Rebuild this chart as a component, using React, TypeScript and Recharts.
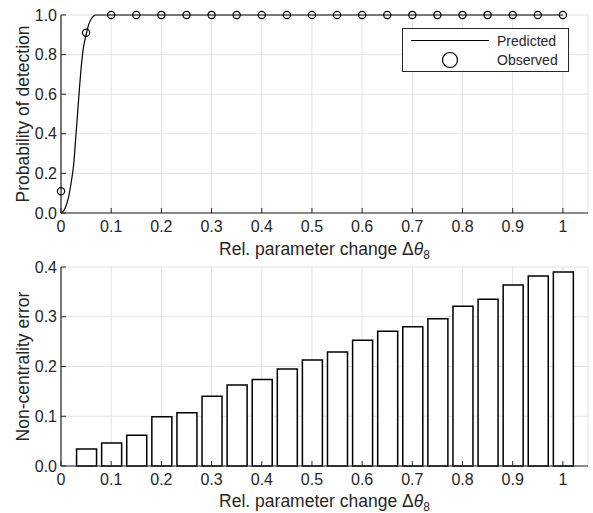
import { ComposedChart, Line, Scatter, Bar, XAxis, YAxis, CartesianGrid, Legend } from "recharts"

const FONT = '"Liberation Sans", Arial, Helvetica, sans-serif'
const INK = "#262626"
const GRID = "#e3e3e3"

// predicted detection probability
const predX = [0, 0.005, 0.01, 0.015, 0.02, 0.025, 0.03, 0.035, 0.04, 0.045, 0.05, 0.055, 0.06, 0.065, 0.07, 0.1, 1]
const predP = [0, 0.01, 0.035, 0.08, 0.15, 0.24, 0.4, 0.57, 0.73, 0.84, 0.9, 0.95, 0.98, 0.995, 1, 1, 1]

// observed detection rate
const obsX = [0, 0.05, 0.1, 0.15, 0.2, 0.25, 0.3, 0.35, 0.4, 0.45, 0.5, 0.55, 0.6, 0.65, 0.7, 0.75, 0.8, 0.85, 0.9, 0.95, 1]
const obsP = [0.11, 0.91, 1, 1, 1, 1, 1, 1, 1, 1, 1, 1, 1, 1, 1, 1, 1, 1, 1, 1, 1]

// non-centrality error per parameter change
const errX = [0.05, 0.1, 0.15, 0.2, 0.25, 0.3, 0.35, 0.4, 0.45, 0.5, 0.55, 0.6, 0.65, 0.7, 0.75, 0.8, 0.85, 0.9, 0.95, 1]
const errV = [0.034, 0.046, 0.062, 0.099, 0.107, 0.14, 0.163, 0.174, 0.195, 0.213, 0.229, 0.253, 0.271, 0.28, 0.296, 0.321, 0.335, 0.364, 0.382, 0.39]

const xTicks = [0, 0.1, 0.2, 0.3, 0.4, 0.5, 0.6, 0.7, 0.8, 0.9, 1]
const pTicks = [0, 0.2, 0.4, 0.6, 0.8, 1]
const eTicks = [0, 0.1, 0.2, 0.3, 0.4]

const predData = predX.map((x, i) => ({ x, y: predP[i] }))
const obsData = obsX.map((x, i) => ({ x, y: obsP[i] }))
const errData = errX.map((x, i) => ({ x, y: errV[i] }))

const W = 593
const LEFT = 61
const RIGHT = 5
const X_MAX = 1.05
const plotW = W - LEFT - RIGHT
const barW = Math.round((plotW * 0.04) / X_MAX)

const fmtX = (v: number) => String(Number(v.toFixed(2)))
const TICK_LEN = 5

const LeftTick = (props: any) => {
  const { x, y, payload } = props
  return (
    <g>
      <line x1={x + 4} x2={x + 4 + TICK_LEN} y1={y} y2={y} stroke={INK} strokeWidth={1} />
      <text x={x} y={y} dy="0.355em" textAnchor="end" fontSize={16} fontFamily={FONT} fill={INK}>
        {Number(payload.value).toFixed(1)}
      </text>
    </g>
  )
}

const RightTick = (props: any) => {
  const { x, y } = props
  return <line x1={x} x2={x - TICK_LEN} y1={y} y2={y} stroke={INK} strokeWidth={1} />
}

const BottomTick = (props: any) => {
  const { x, y, payload } = props
  return (
    <g>
      <line x1={x} x2={x} y1={y - 8} y2={y - 8 - TICK_LEN} stroke={INK} strokeWidth={1} />
      <text x={x} y={y} dy="0.71em" textAnchor="middle" fontSize={16} fontFamily={FONT} fill={INK}>
        {fmtX(payload.value)}
      </text>
    </g>
  )
}

const TopTick = (props: any) => {
  const { x, y } = props
  return <line x1={x} x2={x} y1={y} y2={y + TICK_LEN} stroke={INK} strokeWidth={1} />
}

const XTitle = (props: any) => {
  const { viewBox, gap } = props
  const cx = viewBox.x + viewBox.width / 2
  const y = viewBox.y + gap
  return (
    <text x={cx} y={y} textAnchor="middle" fontSize={17.5} fontFamily={FONT} fill={INK}>
      Rel. parameter change Δ
      <tspan fontStyle="italic">θ</tspan>
      <tspan fontSize={12} dy={4}>8</tspan>
    </text>
  )
}

const YTitle = (props: any) => {
  const { viewBox, text } = props
  const cy = viewBox.y + viewBox.height / 2
  const x = 29
  return (
    <text x={x} y={cy} transform={`rotate(-90, ${x}, ${cy})`} textAnchor="middle" fontSize={17.5} fontFamily={FONT} fill={INK}>
      {text}
    </text>
  )
}

const Ring = (props: any) => {
  const { cx, cy } = props
  return <circle cx={cx} cy={cy} r={3.6} fill="none" stroke="#000" strokeWidth={1.2} />
}

const LegendBox = () => (
  <svg width={168} height={45} style={{ display: "block" }}>
    <rect x={0.5} y={0.5} width={166} height={43} fill="#fff" stroke={INK} strokeWidth={1} />
    <line x1={9} x2={87} y1={12.5} y2={12.5} stroke="#000" strokeWidth={1.2} />
    <text x={95} y={17.5} fontSize={14} fontFamily={FONT} fill={INK}>Predicted</text>
    <circle cx={48} cy={32} r={7.5} fill="none" stroke="#000" strokeWidth={1.2} />
    <text x={95} y={37} fontSize={14} fontFamily={FONT} fill={INK}>Observed</text>
  </svg>
)

// top panel: svg is taller than its plot block so the subscript is not clipped
function DetectionChart() {
  return (
    <ComposedChart width={W} height={268} margin={{ top: 15, right: RIGHT, bottom: 11, left: 0 }}>
      <CartesianGrid stroke={GRID} strokeWidth={1} />
      <XAxis
        dataKey="x"
        type="number"
        domain={[0, X_MAX]}
        ticks={xTicks}
        height={44}
        tickSize={0}
        tickMargin={8}
        tick={<BottomTick />}
        tickLine={false}
        axisLine={{ stroke: INK, strokeWidth: 1.2 }}
        label={<XTitle gap={42} />}
      />
      <XAxis
        xAxisId="top"
        orientation="top"
        type="number"
        domain={[0, X_MAX]}
        ticks={xTicks}
        height={0}
        tickSize={0}
        tickMargin={0}
        tick={<TopTick />}
        tickLine={false}
        axisLine={{ stroke: INK, strokeWidth: 1.2 }}
      />
      <YAxis
        dataKey="y"
        type="number"
        domain={[0, 1]}
        ticks={pTicks}
        width={LEFT}
        tickSize={0}
        tickMargin={4}
        tick={<LeftTick />}
        tickLine={false}
        axisLine={{ stroke: INK, strokeWidth: 1.2 }}
        label={<YTitle text="Probability of detection" />}
      />
      <YAxis
        yAxisId="right"
        orientation="right"
        type="number"
        domain={[0, 1]}
        ticks={pTicks}
        width={0}
        tickSize={0}
        tickMargin={0}
        tick={<RightTick />}
        tickLine={false}
        axisLine={{ stroke: INK, strokeWidth: 1.2 }}
      />
      <Line
        data={predData}
        dataKey="y"
        type="monotone"
        stroke="#000"
        strokeWidth={1.2}
        dot={false}
        activeDot={false}
        isAnimationActive={false}
      />
      <Scatter data={obsData} dataKey="y" shape={<Ring />} isAnimationActive={false} />
      <Legend
        layout="horizontal"
        verticalAlign="middle"
        align="center"
        wrapperStyle={{ left: 402, top: 28, width: 168, height: 45 }}
        content={() => <LegendBox />}
      />
    </ComposedChart>
  )
}

function ErrorChart() {
  return (
    <ComposedChart data={errData} width={W} height={256} margin={{ top: 10, right: RIGHT, bottom: 0, left: 0 }}>
      <CartesianGrid stroke={GRID} strokeWidth={1} />
      <XAxis
        dataKey="x"
        type="number"
        domain={[0, X_MAX]}
        ticks={xTicks}
        height={47}
        tickSize={0}
        tickMargin={8}
        tick={<BottomTick />}
        tickLine={false}
        axisLine={{ stroke: INK, strokeWidth: 1.2 }}
        label={<XTitle gap={41} />}
      />
      <XAxis
        xAxisId="top"
        orientation="top"
        type="number"
        domain={[0, X_MAX]}
        ticks={xTicks}
        height={0}
        tickSize={0}
        tickMargin={0}
        tick={<TopTick />}
        tickLine={false}
        axisLine={{ stroke: INK, strokeWidth: 1.2 }}
      />
      <YAxis
        dataKey="y"
        type="number"
        domain={[0, 0.4]}
        ticks={eTicks}
        width={LEFT}
        tickSize={0}
        tickMargin={4}
        tick={<LeftTick />}
        tickLine={false}
        axisLine={{ stroke: INK, strokeWidth: 1.2 }}
        label={<YTitle text="Non-centrality error" />}
      />
      <YAxis
        yAxisId="right"
        orientation="right"
        type="number"
        domain={[0, 0.4]}
        ticks={eTicks}
        width={0}
        tickSize={0}
        tickMargin={0}
        tick={<RightTick />}
        tickLine={false}
        axisLine={{ stroke: INK, strokeWidth: 1.2 }}
      />
      <Bar dataKey="y" barSize={barW} fill="#fff" stroke="#000" strokeWidth={1.5} isAnimationActive={false} />
    </ComposedChart>
  )
}

export default function App() {
  return (
    <div style={{ position: "absolute", left: 0, top: 0, width: W, height: 513, background: "#fff", overflow: "hidden" }}>
      <div style={{ position: "absolute", left: 0, top: 257 }}>
        <ErrorChart />
      </div>
      <div style={{ position: "absolute", left: 0, top: 0 }}>
        <DetectionChart />
      </div>
    </div>
  )
}
